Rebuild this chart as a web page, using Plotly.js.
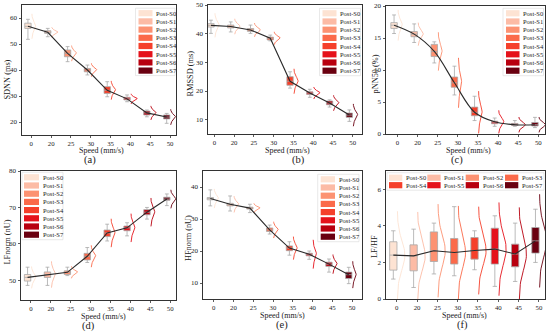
<!DOCTYPE html>
<html><head><meta charset="utf-8">
<script src="https://cdn.plot.ly/plotly-3.0.1.min.js"></script>
<style>html,body{margin:0;padding:0;background:#fff}#chart{width:550px;height:332px}</style>
</head><body><div id="chart"></div>
<script>
// ---------- data ----------
const speeds = ['0','20','25','30','35','40','45','50'];
const groups = ['Post-S0','Post-S1','Post-S2','Post-S3','Post-S4','Post-S5','Post-S6','Post-S7'];
const colors = ['#fde3d3','#fcbba5','#fc9272','#fb6a4a','#f5402b','#e5121b','#b8000f','#6a0010'];

// (a) SDNN (ms)
const sdnnMean = [56.8, 54.5, 46.4, 40.0, 32.2, 28.9, 23.5, 21.9];
const sdnnQ1   = [56.0, 54.1, 45.1, 39.3, 31.0, 28.5, 22.7, 21.2];
const sdnnQ3   = [58.0, 55.1, 47.7, 40.6, 33.6, 29.5, 24.2, 22.7];
const sdnnLo   = [51.8, 52.8, 43.2, 38.1, 29.7, 27.8, 22.0, 19.5];
const sdnnHi   = [59.5, 56.0, 49.0, 41.9, 35.5, 30.4, 24.6, 23.3];
const sdnnSd   = [1.6, 0.65, 1.0, 0.85, 1.2, 0.65, 0.9, 1.0];

// (b) RMSSD (ms)
const rmssdMean = [42.9, 42.5, 41.3, 38.4, 23.4, 19.3, 15.8, 11.6];
const rmssdQ1   = [42.3, 42.0, 40.8, 37.8, 22.0, 18.8, 15.2, 10.8];
const rmssdQ3   = [43.5, 43.0, 41.8, 38.8, 25.0, 19.7, 16.5, 12.3];
const rmssdLo   = [40.1, 40.6, 40.1, 37.5, 21.0, 17.8, 14.4, 9.4];
const rmssdHi   = [44.7, 44.1, 43.0, 39.5, 26.7, 20.6, 16.9, 13.4];
const rmssdSd   = [1.4, 0.9, 0.8, 0.75, 1.45, 0.7, 0.9, 1.3];

// (c) pNN50 (%)
const pnnMean = [17.0, 15.6, 12.9, 8.0, 3.4, 1.9, 1.45, 1.45];
const pnnQ1   = [16.5, 15.2, 12.1, 7.3, 2.85, 1.6, 1.33, 1.25];
const pnnQ3   = [17.4, 16.0, 14.0, 8.9, 4.2, 2.0, 1.65, 1.8];
const pnnLo   = [15.7, 14.3, 11.1, 6.1, 2.1, 1.2, 1.2, 1.0];
const pnnHi   = [18.6, 17.2, 14.4, 10.6, 5.9, 2.5, 2.1, 2.6];
const pnnSd   = [0.8, 0.6, 1.0, 1.3, 1.1, 0.6, 0.4, 0.4];

// (d) LFnorm (nU)
const lfMean = [50.8, 51.6, 52.2, 56.6, 63.0, 64.4, 68.7, 72.3];
const lfQ1   = [49.8, 50.8, 51.6, 55.6, 62.0, 63.6, 68.0, 72.0];
const lfQ3   = [51.6, 52.3, 52.6, 57.4, 63.8, 64.9, 69.4, 72.8];
const lfLo   = [48.6, 48.6, 51.3, 54.9, 60.8, 62.2, 66.8, 70.5];
const lfHi   = [53.6, 53.6, 53.6, 59.0, 65.4, 65.8, 70.0, 73.7];
const lfSd   = [1.0, 1.2, 0.55, 1.0, 1.3, 1.3, 1.3, 0.85];

// (e) HFnorm (nU)
const hfMean = [36.4, 34.6, 33.4, 26.6, 20.9, 19.0, 15.9, 12.6];
const hfQ1   = [36.0, 34.1, 33.1, 26.1, 20.1, 18.5, 15.2, 11.4];
const hfQ3   = [36.7, 34.9, 33.7, 27.2, 21.6, 19.3, 16.5, 13.4];
const hfLo   = [34.1, 32.5, 32.0, 25.3, 18.7, 17.4, 13.4, 9.8];
const hfHi   = [39.1, 37.2, 34.6, 28.1, 22.9, 20.0, 17.5, 14.9];
const hfSd   = [1.0, 0.85, 0.5, 0.85, 1.2, 1.5, 1.0, 1.4];

// (f) LF/HF
const ratioMean = [2.40, 2.36, 2.64, 2.54, 2.65, 2.73, 2.46, 3.18];
const ratioQ1   = [1.58, 1.54, 2.05, 1.91, 2.18, 1.91, 1.76, 2.51];
const ratioQ3   = [3.13, 2.96, 3.67, 3.31, 3.36, 3.87, 3.00, 3.91];
const ratioLo   = [1.09, 0.63, 1.37, 1.27, 1.60, 0.69, 0.96, 2.00];
const ratioHi   = [3.73, 3.82, 4.15, 5.05, 3.73, 4.55, 4.15, 4.91];
const ratioSd   = [0.8, 0.8, 0.85, 0.85, 0.8, 0.85, 0.85, 0.85];

// ---------- layout config (pixels) ----------
const W = 550, H = 332;
const FONT = 'Liberation Serif';
function px(x){ return x / W; }
function py(y){ return 1 - y / H; }

const panels = [
  {mean:sdnnMean, q1:sdnnQ1, q3:sdnnQ3, lo:sdnnLo, hi:sdnnHi, sd:sdnnSd, ytitle:'SDNN (ms)', letter:'(a)',
   box:{l:22, r:176, t:5, b:135}, xr:[-0.47,7.3], yr:[15,65], dtick:10, spline:false,
   ytx:6.5, yty:80, sx:101, sy:150, lx:90, ly:160, leg:{type:'v', x0:138.5, x1:152.5, yc:13.2}},
  {mean:rmssdMean, q1:rmssdQ1, q3:rmssdQ3, lo:rmssdLo, hi:rmssdHi, sd:rmssdSd, ytitle:'RMSSD (ms)', letter:'(b)',
   box:{l:208, r:362, t:5, b:134}, xr:[-0.32,7.47], yr:[5,50], dtick:10, spline:false,
   ytx:189.5, yty:74, sx:287, sy:150, lx:299, ly:160, leg:{type:'v', x0:322.5, x1:336.5, yc:13.3}},
  {mean:pnnMean, q1:pnnQ1, q3:pnnQ3, lo:pnnLo, hi:pnnHi, sd:pnnSd, ytitle:'pNN50 (%)', letter:'(c)',
   box:{l:386, r:545, t:6, b:134}, xr:[-0.57,7.33], yr:[0,20], dtick:5, spline:true,
   ytx:374.5, yty:74, sx:468.5, sy:150, lx:457, ly:160, leg:{type:'v', x0:506, x1:519.5, yc:13.3}},
  {mean:lfMean, q1:lfQ1, q3:lfQ3, lo:lfLo, hi:lfHi, sd:lfSd, ytitle:'LFnorm (nU)', letter:'(d)',
   box:{l:21, r:176, t:171, b:300}, xr:[-0.5,7.29], yr:[44.6,80], dtick:10, spline:false,
   ytx:6.5, yty:242, sx:103, sy:316, lx:88, ly:325.5, leg:{type:'v', x0:24, x1:39, yc:177.3}},
  {mean:hfMean, q1:hfQ1, q3:hfQ3, lo:hfLo, hi:hfHi, sd:hfSd, ytitle:'HFnorm (nU)', letter:'(e)',
   box:{l:203, r:362, t:171, b:299}, xr:[-0.54,7.5], yr:[5,45], dtick:10, spline:false,
   ytx:188, yty:238, sx:282, sy:315, lx:281.5, ly:325, leg:{type:'v', x0:320.7, x1:335, yc:179.3}},
  {mean:ratioMean, q1:ratioQ1, q3:ratioQ3, lo:ratioLo, hi:ratioHi, sd:ratioSd, ytitle:'LF/HF', letter:'(f)',
   box:{l:386, r:545, t:171, b:299}, xr:[-0.53,7.3], yr:[0,7], dtick:2, spline:false,
   ytx:374, yty:247, sx:464.5, sy:315, lx:462, ly:325, leg:{type:'h', x0s:[389,427.3,465.7,505], w:13.3, ycs:[177.7,185.2]},
   wide:true}
];

const traces = [];
const layout = {
  width: W, height: H, margin:{l:0,r:0,t:0,b:0},
  paper_bgcolor:'#fff', plot_bgcolor:'#fff', showlegend:false,
  font:{family:FONT, color:'#222'},
  shapes:[], annotations:[]
};

panels.forEach((p, k) => {
  const suf = k === 0 ? '' : String(k + 1);
  const xref = 'x' + suf, yref = 'y' + suf;
  const idx = speeds.map((s, i) => i);
  const bw = p.wide ? 0.36 : 0.32;
  const boff = -0.17;
  const wmax = p.wide ? 0.37 : 0.32;
  const minSd = Math.min.apply(null, p.sd);

  // half violins
  idx.forEach(i => {
    const xs = [], ys = [];
    const w = wmax * Math.pow(minSd / p.sd[i], 0.6);
    for (let n = 0; n <= 40; n++) {
      const z = -3 + 6 * n / 40;
      ys.push(p.mean[i] + z * p.sd[i]);
      xs.push(i + 0.03 + w * Math.exp(-0.5 * z * z));
    }
    traces.push({type:'scatter', mode:'lines', x:xs, y:ys, xaxis:xref, yaxis:yref,
      line:{color:colors[i], width:0.9}, hoverinfo:'skip'});
  });

  // boxes
  idx.forEach(i => {
    const med = Math.min(Math.max(p.mean[i], p.q1[i]), p.q3[i]);
    traces.push({type:'box', x:[i + boff], q1:[p.q1[i]], median:[med], q3:[p.q3[i]],
      lowerfence:[p.lo[i]], upperfence:[p.hi[i]], width:bw, whiskerwidth:0.6,
      fillcolor:colors[i], line:{color:'#a8a8a8', width:0.8}, boxpoints:false,
      xaxis:xref, yaxis:yref, name:groups[i]});
  });

  // mean line
  traces.push({type:'scatter', mode:'lines', x:idx.map(i => i + boff), y:p.mean,
    xaxis:xref, yaxis:yref, line:{color:'#2a2a2a', width:1.1, shape:p.spline ? 'spline' : 'linear'}});

  const b = p.box;
  layout['xaxis' + suf] = {
    domain:[px(b.l), px(b.r)], range:p.xr, anchor:yref,
    tickmode:'array', tickvals:idx, ticktext:speeds,
    ticks:'outside', ticklen:2, tickwidth:0.8, tickcolor:'#333',
    showline:true, mirror:true, linecolor:'#333', linewidth:1,
    showgrid:false, zeroline:false, tickfont:{size:6.8, family:FONT, color:'#222'}
  };
  layout['yaxis' + suf] = {
    domain:[py(b.b), py(b.t)], range:p.yr, anchor:xref,
    tick0:0, dtick:p.dtick,
    ticks:'outside', ticklen:2.5, tickwidth:0.8, tickcolor:'#333',
    showline:true, mirror:true, linecolor:'#333', linewidth:1,
    showgrid:false, zeroline:false, tickfont:{size:7, family:FONT, color:'#222'}
  };

  // titles
  layout.annotations.push({xref:'paper', yref:'paper', x:px(p.ytx), y:py(p.yty), text:p.ytitle,
    textangle:-90, showarrow:false, xanchor:'center', yanchor:'middle', font:{size:8.3, family:FONT, color:'#222'}});
  layout.annotations.push({xref:'paper', yref:'paper', x:px(p.sx), y:py(p.sy), text:'Speed (mm/s)',
    showarrow:false, xanchor:'center', yanchor:'middle', font:{size:8, family:FONT, color:'#222'}});
  layout.annotations.push({xref:'paper', yref:'paper', x:px(p.lx), y:py(p.ly), text:p.letter,
    showarrow:false, xanchor:'center', yanchor:'middle', font:{size:10.5, family:FONT, color:'#222'}});

  // legend
  const L = p.leg;
  if (L.type === 'v') {
    const step = 8.2;
    const fx0 = Math.max(L.x0 - 3, b.l + 1), fx1 = Math.min(L.x1 + 24, b.r - 1);
    layout.shapes.push({type:'rect', xref:'paper', yref:'paper', x0:px(fx0), x1:px(fx1),
      y0:py(L.yc + 7 * step + 5), y1:py(L.yc - 5), line:{color:'#dadada', width:0.6}, fillcolor:'rgba(255,255,255,0)'});
    groups.forEach((g, i) => {
      const yc = L.yc + i * step;
      layout.shapes.push({type:'rect', xref:'paper', yref:'paper', x0:px(L.x0), x1:px(L.x1),
        y0:py(yc + 3.1), y1:py(yc - 3.1), fillcolor:colors[i], line:{width:0}});
      layout.annotations.push({xref:'paper', yref:'paper', x:px(L.x1 + 1.5), y:py(yc), text:g,
        showarrow:false, xanchor:'left', yanchor:'middle', font:{size:6.5, family:FONT, color:'#222'}});
    });
  } else {
    layout.shapes.push({type:'rect', xref:'paper', yref:'paper', x0:px(387), x1:px(544),
      y0:py(L.ycs[1] + 5), y1:py(L.ycs[0] - 5), line:{color:'#dadada', width:0.6}, fillcolor:'rgba(255,255,255,0)'});
    groups.forEach((g, i) => {
      const col = i % 4, row = Math.floor(i / 4);
      const x0 = L.x0s[col], yc = L.ycs[row];
      layout.shapes.push({type:'rect', xref:'paper', yref:'paper', x0:px(x0), x1:px(x0 + L.w),
        y0:py(yc + 3.1), y1:py(yc - 3.1), fillcolor:colors[i], line:{width:0}});
      layout.annotations.push({xref:'paper', yref:'paper', x:px(x0 + L.w + 1.5), y:py(yc), text:g,
        showarrow:false, xanchor:'left', yanchor:'middle', font:{size:6.5, family:FONT, color:'#222'}});
    });
  }
});

Plotly.newPlot('chart', traces, layout, {staticPlot:true, displayModeBar:false});
</script>
</body></html>
